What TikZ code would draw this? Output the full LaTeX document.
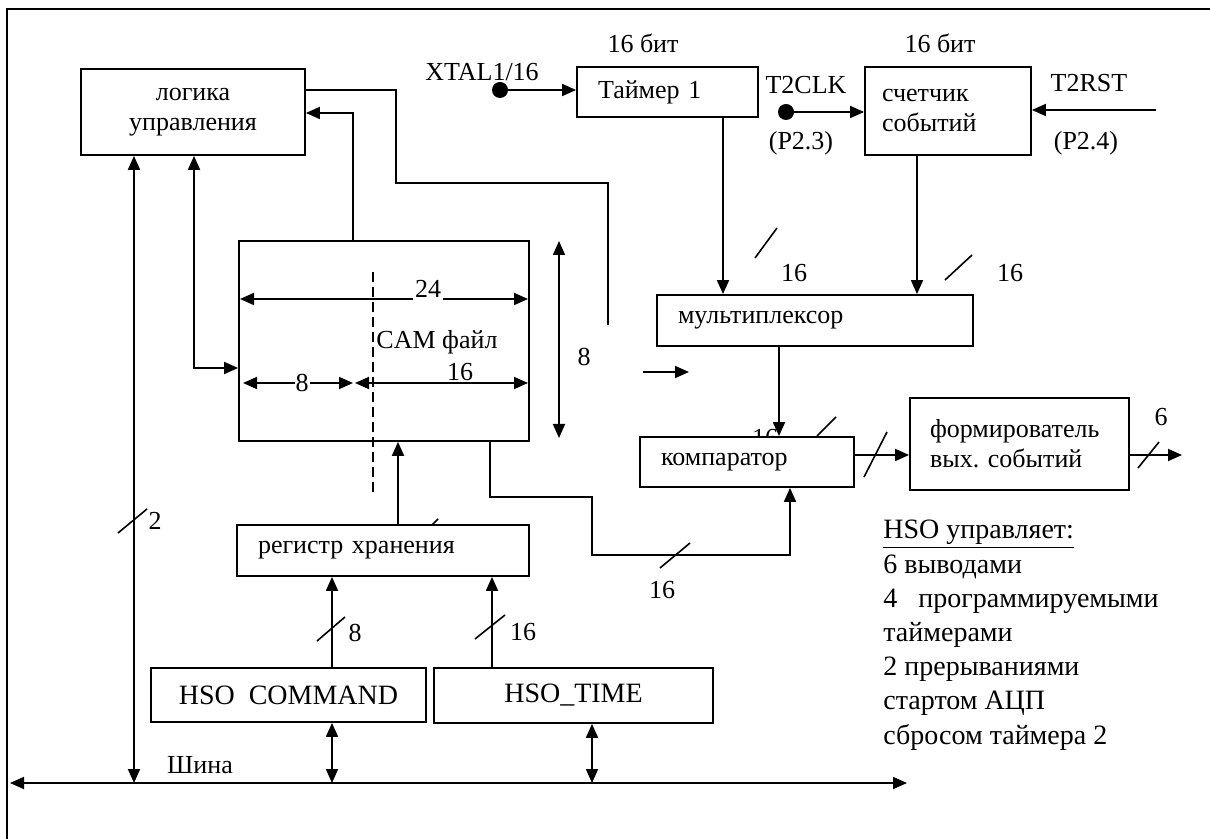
\documentclass[tikz,border=0pt]{standalone}
\usepackage{fontspec}
\setmainfont{Liberation Serif}
\usetikzlibrary{arrows.meta,positioning,calc}
\frenchspacing

\begin{document}
\begin{tikzpicture}[
  x=0.5pt, y=-0.5pt,
  font=\fontsize{13}{15}\selectfont,
  >={Triangle[length=7pt,width=6pt]},
  block/.style={draw, line width=0.9pt, inner sep=0pt, fill=white},
  lblock/.style={block, align=left, inner xsep=10.5pt, text width=#1},
  bigtext/.style={font=\fontsize{14}{16}\selectfont},
  wire/.style={line width=0.9pt},
  tickmark/.style={line width=0.8pt},
  source/.style={circle, fill, inner sep=0pt, minimum size=8pt},
]
\useasboundingbox (0,0) rectangle (1210,839);

% frame
\draw[line width=0.8pt] (7,839) -- (7,9) -- (1210,9);

% Blocks
\node[block, minimum width=112pt, minimum height=43pt, align=center] (logic) at (193,112) {логика\\управления};
\node[lblock=69.5pt, minimum height=25pt] (timer) at (667.5,92) {Таймер 1};
\node[lblock=66pt, inner xsep=8.5pt, minimum height=44pt] (counter) at (948,111) {счетчик\\событий};
\node[block, minimum width=145pt, minimum height=100pt] (cam) at (384,341) {};
\node[lblock=137pt, minimum height=25.5pt] (mux) at (815,320.5) {мультиплексор};
\node (w3) at (765,438) {16}; % half hidden by the comparator
\node[lblock=86pt, minimum height=25pt] (comp) at (747,462) {компаратор};
\node[lblock=89.5pt, inner xsep=10pt, minimum height=46pt] (former) at (1019.5,444) {формирователь\\вых. событий};
\node[lblock=125pt, minimum height=25.5pt] (reg) at (383,550.5) {регистр хранения};
\node[block, bigtext, minimum width=137.5pt, minimum height=27pt] (hsocmd) at (288.5,695) {HSO\ \ COMMAND};
\node[block, bigtext, minimum width=139.5pt, minimum height=27.5pt] (hsotime) at (573.5,695.5) {HSO\_TIME};

% Inputs
\node[source] (xtal) at (500,90) {};
\node (xtaltxt) at (482,72) {XTAL1/16};
\draw[wire,->] (xtal) -- (xtal -| timer.west);
\node (bits1) at (643,43) {16 бит};
\node (bits2) at (940,43) {16 бит};
\node[source] (t2clk) at (786,112) {};
\node (t2clktxt) at (806,85) {T2CLK};
\node (p23) at (801,143) {(P2.3)};
\draw[wire,->] (t2clk) -- (t2clk -| counter.west);
\coordinate (t2rst) at (1156,110);
\node (t2rsttxt) at (1089,83) {T2RST};
\node (p24) at (1086,143) {(P2.4)};
\draw[wire,->] (t2rst) -- (t2rst -| counter.east);

% Timers to multiplexer
\coordinate (tx) at (723,0);
\coordinate (cx) at (917,0);
\draw[wire,->] (timer.south -| tx) -- (mux.north -| tx);
\draw[wire,->] (counter.south -| cx) -- (mux.north -| cx);
\draw[tickmark] (755,258) -- (777,228);
\node (w1) at (794,273) {16};
\draw[tickmark] (945,280) -- (972,255);
\node (w2) at (1010,273) {16};

% Multiplexer, comparator, output
\coordinate (mx) at (779,0);
\draw[wire,->] (mux.south -| mx) -- (comp.north -| mx);
\draw[tickmark] (817,436) -- (836,417);
\coordinate (cy) at (0,455);
\draw[wire,->] (comp.east |- cy) -- (former.west |- cy);
\draw[tickmark] (864,477) -- (887,432);
\coordinate (out) at (1182,455);
\draw[wire,->] (former.east |- out) -- (out);
\draw[tickmark] (1138,468) -- (1159,442);
\node (w6) at (1161,417) {6};

% Control logic links
\coordinate (a1) at (396,90);
\coordinate (a2) at (396,183);
\coordinate (a3) at (608,183);
\coordinate (a4) at (608,325);
\draw[wire] (logic.east |- a1) -- (a1) -- (a2) -- (a3) -- (a4);
\coordinate (s1) at (643,372);
\coordinate (s2) at (689,372);
\draw[wire,->] (s1) -- (s2);
\coordinate (b1) at (353,113);
\draw[wire,->] (cam.north -| b1) -- (b1) -- (logic.east |- b1);
\coordinate (b2) at (194,368);
\draw[wire,<->] (logic.south -| b2) -- (b2) -- (cam.west |- b2);

% Bus
\coordinate (busl) at (10,783);
\coordinate (busr) at (907,783);
\draw[wire,<->] (busl) -- (busr);
\node (bus) at (200,765) {Шина};
\coordinate (b3) at (134,783);
\draw[wire,<->] (logic.south -| b3) -- (b3);
\draw[tickmark] (118,533) -- (147,509);
\node (w2b) at (155,521) {2};

% CAM file widths
\draw[wire,<->] (240,299) -- (528,299);
\node[fill=white, inner sep=1pt] (d24) at (428,289) {24};
\draw[wire,<->] (243,383) -- (353,383);
\node[fill=white, inner sep=0.5pt] (d8) at (302,383) {8};
\draw[wire,<->] (355,383) -- (528,383);
\node (d16) at (460,372) {16};
\draw[wire, dashed, dash pattern=on 5pt off 2.5pt] (373,272) -- (373,493);
\node[fill=white, inner sep=1pt] (camtext) at (437,342) {CAM файл};
\coordinate (v1) at (559,241);
\coordinate (v2) at (559,438);
\draw[wire,<->] (v1) -- (v2);
\node (d8b) at (584,357) {8};

% Register to CAM
\coordinate (r1) at (398,0);
\draw[wire,->] (reg.north -| r1) -- (cam.south -| r1);
\draw[tickmark] (432,525) -- (438,519);

% CAM to comparator
\coordinate (k1) at (490,497);
\coordinate (k2) at (592,555);
\coordinate (k3) at (790,555);
\draw[wire,->] (cam.south -| k1) -- (k1) -| (k2) -- (k3) -- (comp.south -| k3);
\draw[tickmark] (660,568) -- (690,543);
\node (w16c) at (662,590) {16};

% HSO registers
\coordinate (h1) at (332,0);
\coordinate (h2) at (492,0);
\coordinate (h3) at (592,0);
\draw[wire,->] (hsocmd.north -| h1) -- (reg.south -| h1);
\draw[wire,->] (hsotime.north -| h2) -- (reg.south -| h2);
\draw[wire,<->] (hsocmd.south -| h1) -- (busl -| h1);
\draw[wire,<->] (hsotime.south -| h3) -- (busl -| h3);
\draw[tickmark] (317,641) -- (345,617);
\node (w8) at (355,633) {8};
\draw[tickmark] (475,639) -- (505,615);
\node (w16t) at (523,632) {16};

% Legend
\node[anchor=north west, align=left, inner sep=0pt, font=\fontsize{14}{17.1}\selectfont] (legend) at (883,520)
  {\underline{HSO управляет:}\\6 выводами\\4\ \ \ программируемыми\\таймерами\\2 прерываниями\\стартом АЦП\\сбросом таймера 2};

\end{tikzpicture}
\end{document}
